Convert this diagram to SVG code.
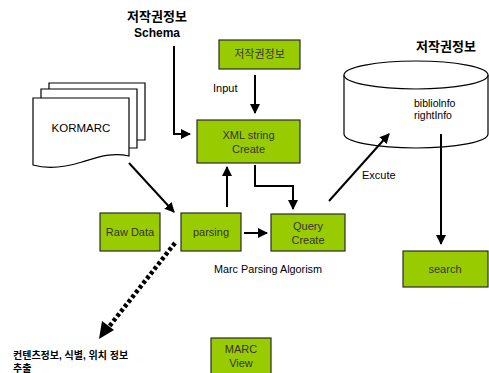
<svg xmlns="http://www.w3.org/2000/svg" width="489" height="373" viewBox="0 0 489 373">
  <style>
    .box { fill: #99cc00; stroke: #2b2b2b; stroke-width: 1.2; }
    .boxtxt { font-family: "Liberation Sans", Arial, sans-serif; font-size: 11px; fill: #333; text-anchor: middle; }
    .lbl { font-family: "Liberation Sans", Arial, sans-serif; font-size: 11px; fill: #000; }
    .klbl { font-family: "Liberation Sans", "Noto Sans CJK KR", sans-serif; font-size: 13px; font-weight: bold; fill: #000; }
    .ktxt { font-family: "Liberation Sans", "Noto Sans CJK KR", sans-serif; font-size: 10px; font-weight: bold; fill: #000; }
    .doc { fill: #fff; stroke: #000; stroke-width: 1.2; }
    .line { fill: none; stroke: #000; stroke-width: 2; }
    .dots { fill: none; stroke: #000; stroke-width: 4.5; stroke-dasharray: 3.5 2.5; }
  </style>
  <defs>
    <marker id="arrow" viewBox="0 0 10 10" refX="9" refY="5" markerWidth="5" markerHeight="5" orient="auto" markerUnits="strokeWidth">
      <path d="M0,0 L10,5 L0,10 Z" fill="#000"/>
    </marker>
  </defs>

  <rect width="489" height="373" fill="#fff"/>

  <!-- labels -->
  <text class="klbl" x="157" y="21" text-anchor="middle">저작권정보</text>
  <text class="klbl" x="157" y="37" text-anchor="middle" style="font-size:12px">Schema</text>
  <text class="klbl" x="446" y="51" text-anchor="middle">저작권정보</text>
  <text class="lbl" x="213" y="92">Input</text>
  <text class="lbl" x="362" y="179">Excute</text>
  <text class="lbl" x="214" y="273" style="font-size:10.8px">Marc Parsing Algorism</text>
  <text class="ktxt" x="13" y="359">컨텐츠정보, 식별, 위치 정보</text>
  <text class="ktxt" x="13" y="372">추출</text>

  <!-- document stack -->
  <g id="kormarc">
    <path class="doc" d="M49,83 H145 V140 H49 Z"/>
    <path class="doc" d="M41,89 H137 V148 H41 Z"/>
    <path class="doc" d="M33,98 H129 V156 C112,152 98,157 82,162 C66,167 50,170 33,165 Z"/>
    <text class="boxtxt" x="81" y="132" style="fill:#000;font-size:11.5px">KORMARC</text>
  </g>

  <!-- database -->
  <g id="db">
    <path class="doc" d="M344,75 V134 A72,14 0 0 0 488,134 V75"/>
    <ellipse class="doc" cx="416" cy="75" rx="72" ry="14"/>
    <text class="lbl" x="414" y="107" style="font-size:10.5px">bibliolnfo</text>
    <text class="lbl" x="414" y="119" style="font-size:10.5px">rightInfo</text>
  </g>

  <!-- process boxes -->
  <g id="copyright">
    <rect class="box" x="219" y="40" width="81" height="29"/>
    <text class="boxtxt" x="259.5" y="58" style="font-family:'Liberation Sans','Noto Sans CJK KR',sans-serif">저작권정보</text>
  </g>
  <g id="xml">
    <rect class="box" x="197" y="120" width="103" height="43"/>
    <text class="boxtxt" x="248.5" y="139">XML string</text>
    <text class="boxtxt" x="248.5" y="153">Create</text>
  </g>
  <g id="rawdata">
    <rect class="box" x="100" y="213" width="60" height="38"/>
    <text class="boxtxt" x="130" y="236">Raw Data</text>
  </g>
  <g id="parsing">
    <rect class="box" x="181" y="213" width="60" height="38"/>
    <text class="boxtxt" x="211" y="236">parsing</text>
  </g>
  <g id="query">
    <rect class="box" x="271" y="214" width="74" height="37"/>
    <text class="boxtxt" x="308" y="230">Query</text>
    <text class="boxtxt" x="308" y="244">Create</text>
  </g>
  <g id="search">
    <rect class="box" x="403" y="251" width="85" height="36"/>
    <text class="boxtxt" x="445" y="273">search</text>
  </g>
  <g id="marcview">
    <rect class="box" x="211" y="338" width="60" height="40"/>
    <text class="boxtxt" x="241" y="353">MARC</text>
    <text class="boxtxt" x="241" y="367">View</text>
  </g>

  <!-- connectors -->
  <g id="connectors">
    <path class="line" d="M174,46 V134 H190" marker-end="url(#arrow)"/>
    <path class="line" d="M255,75 V113" marker-end="url(#arrow)"/>
    <path class="line" d="M227,207 V167" marker-end="url(#arrow)"/>
    <path class="line" d="M255,165 V186 H293 V209" marker-end="url(#arrow)"/>
    <path class="line" d="M244,233 H267" marker-end="url(#arrow)"/>
    <path class="line" d="M129,163 L174,212" marker-end="url(#arrow)"/>
    <path class="line" d="M329,201 L389,134" marker-end="url(#arrow)"/>
    <path class="line" d="M441,134 V244" marker-end="url(#arrow)"/>
    <path class="dots" d="M175,243 L108,328"/>
    <path d="M99,339 L102,321 L114,330 Z" fill="#000"/>
  </g>
</svg>
